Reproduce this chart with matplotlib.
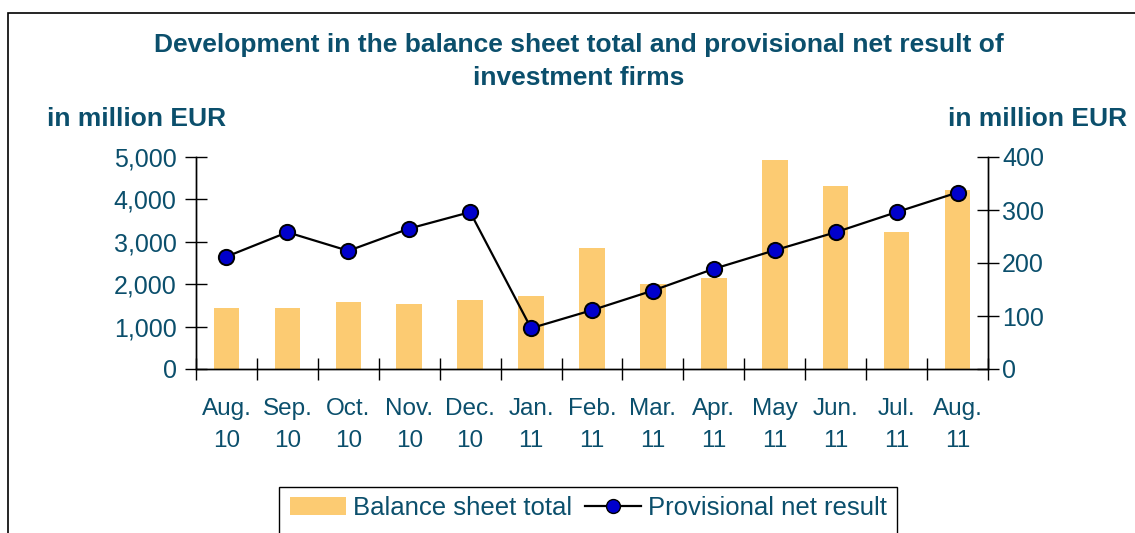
import matplotlib
matplotlib.use("Agg")
import matplotlib.pyplot as plt
import numpy as np
from matplotlib.patches import Rectangle
from matplotlib.lines import Line2D
from matplotlib.patches import Patch

# Data
months = ["Aug.\n10", "Sep.\n10", "Oct.\n10", "Nov.\n10", "Dec.\n10", "Jan.\n11", "Feb.\n11",
          "Mar.\n11", "Apr.\n11", "May\n11", "Jun.\n11", "Jul.\n11", "Aug.\n11"]
balance_total = [1440, 1440, 1580, 1535, 1630, 1720, 2855, 2005, 2145, 4930, 4315, 3230, 4220]
net_result = [212, 258, 223, 265, 296, 77, 111, 148, 189, 224, 258, 296, 333]

txt = "#0B4F6C"
bar_col = "#FCCB72"
plt.rcParams["font.family"] = ["Liberation Sans", "DejaVu Sans"]

fig = plt.figure(figsize=(11.35, 5.33), dpi=100)
ax = fig.add_axes([196 / 1135, 1 - 369 / 533, 792 / 1135, 212 / 533])
x = np.arange(len(months))

ax.bar(x, balance_total, width=0.42, color=bar_col, zorder=1)
ax.set_xlim(-0.5, len(months) - 0.5)
ax.set_ylim(0, 5000)
ax.set_yticks(np.arange(0, 5001, 1000))
ax.set_yticklabels([f"{v:,}" for v in range(0, 5001, 1000)])

ax2 = ax.twinx()
ax2.plot(x, net_result, color="black", lw=1.6, marker="o", ms=11,
         markerfacecolor="#0000CC", markeredgecolor="black", markeredgewidth=1.4, zorder=3)
ax2.set_ylim(0, 400)
ax2.set_yticks(np.arange(0, 401, 100))

for a in (ax, ax2):
    a.spines["top"].set_visible(False)
    for s in ("left", "right", "bottom"):
        a.spines[s].set_linewidth(1.0)
    a.tick_params(axis="y", direction="inout", length=16, width=1, labelsize=18,
                  labelcolor=txt, pad=6)

ax.set_xticks(x)
ax.set_xticklabels(months, linespacing=1.55)
ax.set_xticks(np.arange(-0.5, len(months)), minor=True)
ax.tick_params(axis="x", which="major", length=0, labelsize=17.5, labelcolor=txt, pad=21)
ax.tick_params(axis="x", which="minor", direction="inout", length=16, width=1)
ax2.tick_params(axis="y", pad=2)

fig.text(579 / 1135, 1 - 61.5 / 533,
         "Development in the balance sheet total and provisional net result of\ninvestment firms",
         ha="center", va="center", fontsize=19, fontweight="bold", color=txt,
         linespacing=1.45)
fig.text(47 / 1135, 1 - 119 / 533, "in million EUR", ha="left", va="center",
         fontsize=19, fontweight="bold", color=txt)
fig.text(1127 / 1135, 1 - 119 / 533, "in million EUR", ha="right", va="center",
         fontsize=19, fontweight="bold", color=txt)

# outer chart frame and legend box (cut by the image edge)
fig.add_artist(Rectangle((8 / 1135, -0.1), 1.2, 1 - 13 / 533 + 0.1, transform=fig.transFigure,
                         fill=False, edgecolor="black", lw=1.2, clip_on=False))
fig.add_artist(Rectangle((279 / 1135, -0.1), 618 / 1135, 1 - 487 / 533 + 0.1,
                         transform=fig.transFigure, fill=False, edgecolor="black", lw=1.0,
                         clip_on=False))

handles = [Patch(facecolor=bar_col, edgecolor="none"),
           Line2D([], [], color="black", lw=1.6, marker="o", ms=10,
                  markerfacecolor="#0000CC", markeredgecolor="black")]
fig.legend(handles, ["Balance sheet total", "Provisional net result"], ncol=2,
           loc="center", bbox_to_anchor=(588 / 1135, 1 - 508 / 533), frameon=False,
           fontsize=18.5, labelcolor=txt, handlelength=2.2, handletextpad=0.25,
           columnspacing=0.5)

fig.savefig("out.png", dpi=100)
